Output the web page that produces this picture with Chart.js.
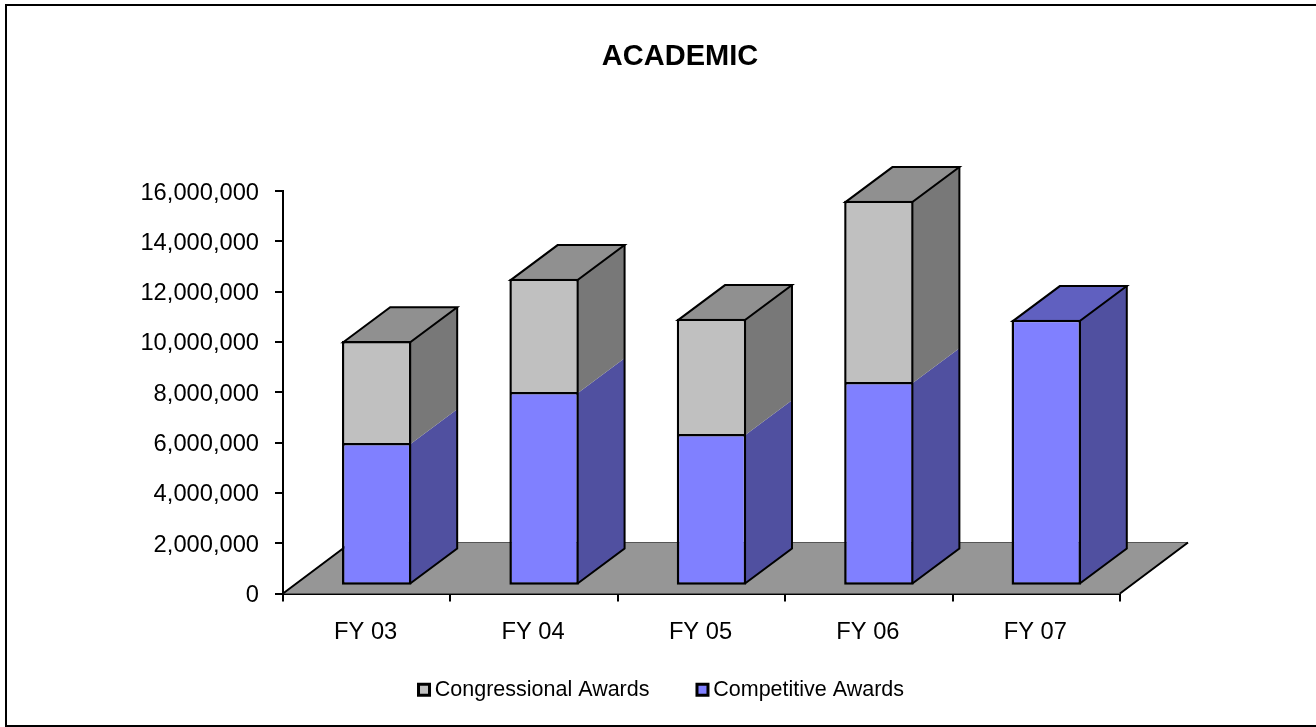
<!DOCTYPE html>
<html>
<head>
<meta charset="utf-8">
<title>ACADEMIC</title>
<script src="https://cdn.jsdelivr.net/npm/chart.js@4"></script>
<style>
    body { margin: 0; background: #fff; }
    canvas { display: block; }
</style>
</head>
<body>
<canvas id="academicChart" width="1316" height="727"></canvas>
<script>
const categories = ["FY 03", "FY 04", "FY 05", "FY 06", "FY 07"];
const competitiveAwards = [5670000, 7700000, 6030000, 8100000, 10570000];
const congressionalAwards = [4060000, 4500000, 4580000, 7200000, 0];

const fontName = "'Liberation Sans', Arial, sans-serif";

// 3D look: how far the boxes and the floor go back
const barDepth = { x: 47, y: 35 };
const floorDepth = { x: 68, y: 51 };
const barShift = { x: 10, y: -7.75 };
const barBorder = 2.5;

const sideColors = ["#5050a0", "#787878"];
const topColors = ["#6060c0", "#909090"];

const threeD = {
    id: "threeD",
    afterLayout(chart) {
        // title and legend do not sit centred on the canvas
        chart.titleBlock.left = 240;
        chart.titleBlock.right = 1120;
        chart.legend.left = 371;
        chart.legend.right = 1316;
        chart.legend.top = 626;
        chart.legend.bottom = 727;
    },
    beforeDraw(chart) {
        // frame runs off the right edge of the picture
        const ctx = chart.ctx;
        ctx.save();
        ctx.strokeStyle = "#000";
        ctx.lineWidth = 2;
        ctx.beginPath();
        ctx.moveTo(1316, 5);
        ctx.lineTo(6, 5);
        ctx.lineTo(6, 726);
        ctx.lineTo(1316, 726);
        ctx.stroke();
        ctx.restore();
    },
    beforeDatasetsDraw(chart) {
        const ctx = chart.ctx;
        const a = chart.chartArea;

        // floor
        ctx.save();
        ctx.beginPath();
        ctx.moveTo(a.left, a.bottom);
        ctx.lineTo(a.right, a.bottom);
        ctx.lineTo(a.right + floorDepth.x, a.bottom - floorDepth.y);
        ctx.lineTo(a.left + floorDepth.x, a.bottom - floorDepth.y);
        ctx.closePath();
        ctx.fillStyle = "#969696";
        ctx.fill();
        ctx.strokeStyle = "#555";
        ctx.lineWidth = 1;
        ctx.stroke();
        ctx.strokeStyle = "#000";
        ctx.lineWidth = 2;
        ctx.beginPath();
        ctx.moveTo(a.left, a.bottom);
        ctx.lineTo(a.left + floorDepth.x, a.bottom - floorDepth.y);
        ctx.moveTo(a.right, a.bottom);
        ctx.lineTo(a.right + floorDepth.x, a.bottom - floorDepth.y);
        ctx.stroke();
        ctx.restore();

        ctx.save();
        ctx.translate(barShift.x, barShift.y);

        // bar borders sit inside the bar, so the faces start on the middle of the border
        const inset = barBorder / 2;
        const bottomBars = chart.getDatasetMeta(0).data;
        const upperBars = chart.getDatasetMeta(1).data;
        bottomBars.forEach((low, i) => {
            const high = upperBars[i];
            const hasUpper = congressionalAwards[i] > 0;
            const right = low.x + low.width / 2 - inset;
            const left = low.x - low.width / 2 + inset;
            const lowTop = low.y + inset;
            const topY = (hasUpper ? high.y : low.y) + inset;
            const baseY = low.base - inset;

            // side faces, no line where the colours meet
            sideFace(ctx, right, baseY, lowTop, sideColors[0]);
            if (hasUpper) sideFace(ctx, right, lowTop, topY, sideColors[1]);

            // top face
            ctx.beginPath();
            ctx.moveTo(left, topY);
            ctx.lineTo(left + barDepth.x, topY - barDepth.y);
            ctx.lineTo(right + barDepth.x, topY - barDepth.y);
            ctx.lineTo(right, topY);
            ctx.closePath();
            ctx.fillStyle = topColors[hasUpper ? 1 : 0];
            ctx.fill();
            ctx.strokeStyle = "#000";
            ctx.lineWidth = 2;
            ctx.stroke();

            // outline of the side
            ctx.beginPath();
            ctx.moveTo(right + barDepth.x, topY - barDepth.y);
            ctx.lineTo(right + barDepth.x, baseY - barDepth.y);
            ctx.lineTo(right, baseY);
            ctx.lineWidth = 2;
            ctx.stroke();
        });
    },
    afterDatasetsDraw(chart) {
        chart.ctx.restore();
    }
};

function sideFace(ctx, x, baseY, topY, color) {
    ctx.beginPath();
    ctx.moveTo(x, baseY);
    ctx.lineTo(x, topY);
    ctx.lineTo(x + barDepth.x, topY - barDepth.y);
    ctx.lineTo(x + barDepth.x, baseY - barDepth.y);
    ctx.closePath();
    ctx.fillStyle = color;
    ctx.fill();
}

new Chart(document.getElementById("academicChart"), {
    type: "bar",
    data: {
        labels: categories,
        datasets: [
            {
                label: "Competitive Awards",
                data: competitiveAwards,
                backgroundColor: "#8080ff",
                borderColor: "#000",
                borderWidth: barBorder,
                borderSkipped: false
            },
            {
                label: "Congressional Awards",
                data: congressionalAwards,
                backgroundColor: "#c0c0c0",
                borderColor: "#000",
                borderWidth: { top: barBorder, left: barBorder, right: barBorder, bottom: 0 },
                borderSkipped: false
            }
        ]
    },
    options: {
        responsive: false,
        animation: false,
        categoryPercentage: 0.415,
        barPercentage: 1,
        layout: { padding: { left: 0, right: 196, top: 0, bottom: 0 } },
        plugins: {
            title: {
                display: true,
                text: "ACADEMIC",
                color: "#000",
                font: { family: fontName, size: 29, weight: "bold", lineHeight: 1.2 },
                padding: { top: 40, bottom: 116.2 }
            },
            legend: {
                position: "bottom",
                align: "start",
                reverse: true,
                labels: {
                    usePointStyle: true,
                    pointStyle: "rect",
                    boxWidth: 0.01,
                    boxHeight: 11,
                    padding: 53,
                    color: "#000",
                    font: { family: fontName, size: 21.5 },
                    generateLabels: (chart) =>
                        Chart.defaults.plugins.legend.labels.generateLabels(chart).map((item) => ({ ...item, lineWidth: 3 }))
                }
            },
            tooltip: { enabled: false }
        },
        scales: {
            x: {
                stacked: true,
                afterFit(scale) { scale.height = 49; },
                grid: { drawOnChartArea: false, color: "#000", lineWidth: 2, tickLength: 8 },
                border: { color: "#000", width: 2 },
                ticks: { color: "#000", padding: 17, labelOffset: -1, maxRotation: 0, font: { family: fontName, size: 23.7 } }
            },
            y: {
                stacked: true,
                min: 0,
                max: 16000000,
                afterFit(scale) { scale.width = 283; },
                grid: { drawOnChartArea: false, color: "#000", lineWidth: 2, tickLength: 8 },
                border: { color: "#000", width: 2 },
                ticks: {
                    stepSize: 2000000,
                    color: "#000",
                    padding: 16,
                    labelOffset: 2,
                    font: { family: fontName, size: 23.7 },
                    callback: (value) => value.toLocaleString("en-US")
                }
            }
        }
    },
    plugins: [threeD]
});
</script>
</body>
</html>
